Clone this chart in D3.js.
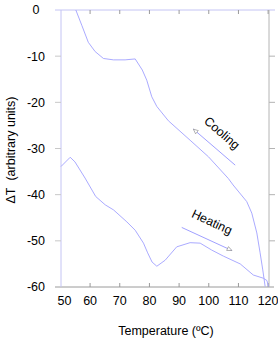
<!DOCTYPE html>
<html>
<head>
<meta charset="utf-8">
<script src="https://cdn.jsdelivr.net/npm/d3@7"></script>
<style>
  body { margin: 0; background: #fff; }
  text { font-family: "Liberation Sans", Arial, Helvetica, sans-serif; }
</style>
</head>
<body>
<script>
// cooling run (temperature, deltaT)
var coolingT = [55.2, 57.2, 59.4, 61.7, 64.5, 67.9, 71.8, 75.2, 77.6, 79.1, 80.8, 82.5, 86.4, 93.7, 99.9, 106.6, 108.2, 112.8, 114.5, 116.2, 117.3, 118.2, 119.0];
var coolingV = [0, -3.3, -7.0, -9.0, -10.5, -10.8, -10.8, -10.6, -13.0, -15.2, -18.8, -20.9, -24.0, -28.2, -31.8, -36.5, -37.9, -41.5, -44.0, -48.3, -52.6, -56.3, -59.9];

// heating run
var heatingT = [50.2, 53.3, 54.9, 58.3, 61.9, 65.1, 67.9, 72.4, 75.2, 78.0, 79.4, 80.9, 82.5, 85.3, 89.2, 93.7, 97.1, 101.0, 104.9, 110.6, 115.0, 118.4, 119.6, 120.1];
var heatingV = [-33.9, -31.9, -32.9, -36.4, -40.4, -42.2, -43.3, -45.9, -47.7, -50.5, -52.6, -54.6, -55.5, -54.2, -51.3, -50.4, -50.5, -52.0, -53.3, -55.0, -57.4, -58.1, -58.6, -59.9];

var xTicks = [50, 60, 70, 80, 90, 100, 110, 120];
var yTicks = [0, -10, -20, -30, -40, -50, -60];

// arrows next to the curves: [tStart, vStart, tEnd, vEnd]
var coolingArrow = [108.9, -33.6, 94.8, -25.8];
var heatingArrow = [90.9, -47.1, 107.8, -52.1];

var width = 278, height = 340;
var pLeft = 61, pRight = 269, pTop = 10, pBottom = 287;

var svg = d3.select("body").append("svg")
    .attr("width", width)
    .attr("height", height);

var x = d3.scaleLinear().domain([50.2, 120.3]).range([pLeft, pRight]);
var y = d3.scaleLinear().domain([-60, 0]).range([pBottom, pTop]);

var defs = svg.append("defs");
defs.append("marker")
    .attr("id", "head")
    .attr("viewBox", "0 0 10 10")
    .attr("refX", 9).attr("refY", 5)
    .attr("markerWidth", 6).attr("markerHeight", 6)
    .attr("orient", "auto")
    .append("path")
    .attr("d", "M1,1.5 L9,5 L1,8.5 Z")
    .attr("fill", "#fff")
    .attr("stroke", "#888")
    .attr("stroke-width", 1);

var grey = "#9a9a9a", blueAxis = "#c4c4f4", curveCol = "#a0a0ff";

// frame lines
svg.append("line").attr("x1", 55).attr("x2", 274).attr("y1", pBottom).attr("y2", pBottom)
    .attr("stroke", grey);
svg.append("line").attr("x1", 55).attr("x2", 275).attr("y1", pTop).attr("y2", pTop)
    .attr("stroke", blueAxis);
svg.append("line").attr("x1", pLeft).attr("x2", pLeft).attr("y1", pTop).attr("y2", pBottom)
    .attr("stroke", blueAxis);
svg.append("line").attr("x1", pRight).attr("x2", pRight).attr("y1", pTop).attr("y2", pBottom)
    .attr("stroke", "#b4b4b4");

// x ticks (inward, top and bottom)
var inner = xTicks.slice(1);
svg.append("g").selectAll("line").data(inner).enter().append("line")
    .attr("x1", function(d) { return x(d) }).attr("x2", function(d) { return x(d) })
    .attr("y1", pBottom).attr("y2", pBottom - 4)
    .attr("stroke", grey);
svg.append("g").selectAll("line").data(inner).enter().append("line")
    .attr("x1", function(d) { return x(d) }).attr("x2", function(d) { return x(d) })
    .attr("y1", pTop).attr("y2", pTop + 4)
    .attr("stroke", grey);

svg.append("g").selectAll("text").data(xTicks).enter().append("text")
    .attr("x", function(d) { return x(d) + (d === 50 ? 4 : 0) })
    .attr("y", 305)
    .attr("text-anchor", "middle")
    .attr("font-size", 12.5)
    .text(function(d) { return d });

// y ticks (outward on both sides)
var midY = yTicks.slice(1, -1);
svg.append("g").selectAll("line").data(midY).enter().append("line")
    .attr("x1", 55).attr("x2", pLeft)
    .attr("y1", function(d) { return y(d) }).attr("y2", function(d) { return y(d) })
    .attr("stroke", "#c8c8c8");
svg.append("g").selectAll("line").data(midY).enter().append("line")
    .attr("x1", pRight).attr("x2", 275)
    .attr("y1", function(d) { return y(d) }).attr("y2", function(d) { return y(d) })
    .attr("stroke", "#b4b4b4");

svg.append("g").selectAll("text").data(yTicks).enter().append("text")
    .attr("x", 36)
    .attr("y", function(d) { return y(d) })
    .attr("dy", "0.35em")
    .attr("text-anchor", "middle")
    .attr("font-size", 12.5)
    .text(function(d) { return d });

// axis titles
svg.append("text")
    .attr("x", 166).attr("y", 335)
    .attr("text-anchor", "middle")
    .attr("font-size", 12.5)
    .text("Temperature (\u00baC)");

svg.append("text")
    .attr("transform", "translate(15,150) rotate(-90)")
    .attr("text-anchor", "middle")
    .attr("font-size", 12.5)
    .text("\u0394T\u00a0 (arbitrary units)");

// curves
var line = d3.line()
    .x(function(d) { return x(d[0]) })
    .y(function(d) { return y(d[1]) });

var cooling = d3.zip(coolingT, coolingV);
var heating = d3.zip(heatingT, heatingV);

svg.append("path").datum(cooling)
    .attr("d", line)
    .attr("fill", "none")
    .attr("stroke", curveCol)
    .attr("stroke-width", 0.9);

svg.append("path").datum(heating)
    .attr("d", line)
    .attr("fill", "none")
    .attr("stroke", curveCol)
    .attr("stroke-width", 0.9);

// arrows and labels
[coolingArrow, heatingArrow].forEach(function(a) {
    svg.append("line")
        .attr("x1", x(a[0])).attr("y1", y(a[1]))
        .attr("x2", x(a[2])).attr("y2", y(a[3]))
        .attr("stroke", curveCol)
        .attr("marker-end", "url(#head)");
});

svg.append("text")
    .attr("transform", "translate(" + x(104.5) + "," + y(-26.6) + ") rotate(41)")
    .attr("text-anchor", "middle")
    .attr("dy", "0.35em")
    .attr("font-size", 12.5)
    .text("Cooling");

svg.append("text")
    .attr("transform", "translate(" + x(101.1) + "," + y(-45.9) + ") rotate(25)")
    .attr("text-anchor", "middle")
    .attr("dy", "0.35em")
    .attr("font-size", 12.5)
    .text("Heating");
</script>
</body>
</html>
